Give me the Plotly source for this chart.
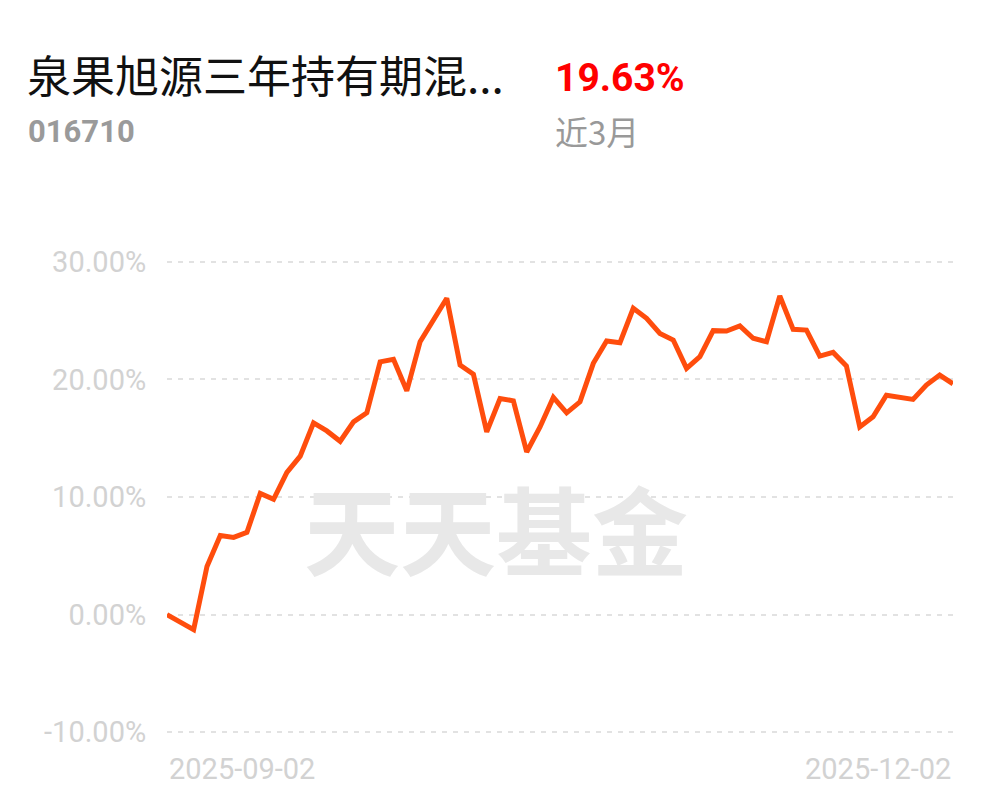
import plotly.graph_objects as go

# ---------------- data ----------------
fund_name = "泉果旭源三年持有期混..."
fund_code = "016710"
period_return = "19.63%"
period_label = "近3月"
watermark = "天天基金"

dates = [
    "2025-09-02", "2025-09-03", "2025-09-04", "2025-09-05", "2025-09-08", "2025-09-09",
    "2025-09-10", "2025-09-11", "2025-09-12", "2025-09-15", "2025-09-16", "2025-09-17",
    "2025-09-18", "2025-09-19", "2025-09-22", "2025-09-23", "2025-09-24", "2025-09-25",
    "2025-09-26", "2025-09-29", "2025-09-30",
    "2025-10-09", "2025-10-10", "2025-10-13", "2025-10-14", "2025-10-15", "2025-10-16",
    "2025-10-17", "2025-10-20", "2025-10-21", "2025-10-22", "2025-10-23", "2025-10-24",
    "2025-10-27", "2025-10-28", "2025-10-29", "2025-10-30", "2025-10-31",
    "2025-11-03", "2025-11-04", "2025-11-05", "2025-11-06", "2025-11-07", "2025-11-10",
    "2025-11-11", "2025-11-12", "2025-11-13", "2025-11-14", "2025-11-17", "2025-11-18",
    "2025-11-19", "2025-11-20", "2025-11-21", "2025-11-24", "2025-11-25", "2025-11-26",
    "2025-11-27", "2025-11-28",
    "2025-12-01", "2025-12-02",
]

returns = [
    0.00, -0.66, -1.28, 4.09, 6.73, 6.56, 6.99, 10.31, 9.80, 12.10,
    13.47, 16.30, 15.62, 14.74, 16.39, 17.16, 21.50, 21.71, 19.03, 23.21,
    25.06, 26.91, 21.22, 20.45, 15.54, 18.38, 18.18, 13.83, 15.96, 18.47,
    17.16, 18.09, 21.37, 23.27, 23.12, 26.05, 25.20, 23.92, 23.35, 20.94,
    21.93, 24.15, 24.12, 24.55, 23.50, 23.21, 27.10, 24.26, 24.20, 21.99,
    22.30, 21.14, 15.96, 16.82, 18.66, 18.47, 18.30, 19.52, 20.37, 19.63,
]

y_tick_vals = [-10, 0, 10, 20, 30]
y_tick_labels = ["-10.00%", "0.00%", "10.00%", "20.00%", "30.00%"]
x_tick_labels = [dates[0], dates[-1]]

# ---------------- layout helpers ----------------
OFF = 8                      # default body margin of the html page
W, H = 997 - 2 * OFF, 802 - 2 * OFF
Y_MIN, Y_MAX = -10.5, 30.5
PX_PER_PCT = (732 - 262) / 40.0
# plot area in reference-page pixels
PL, PR = 167, 953
PT = 262 - (Y_MAX - 30) * PX_PER_PCT
PB = 732 + (-10 - Y_MIN) * PX_PER_PCT


def px_x(px):
    return (px - PL) / (PR - PL)


def px_y(py):
    return (PB - py) / (PB - PT)


fig = go.Figure()
fig.add_trace(go.Scatter(
    x=dates, y=returns, mode="lines",
    line=dict(color="#FF4D0D", width=5),
    hoverinfo="skip",
))

fig.update_layout(
    width=W, height=H,
    margin=dict(l=PL - OFF, r=(W + OFF) - PR, t=PT - OFF, b=(H + OFF) - PB, pad=0),
    paper_bgcolor="white", plot_bgcolor="white",
    showlegend=False,
    xaxis=dict(
        type="category", range=[0, len(dates) - 1],
        showgrid=False, zeroline=False, showline=False,
        showticklabels=False, ticks="",
    ),
    yaxis=dict(
        range=[Y_MIN, Y_MAX],
        tickvals=y_tick_vals, ticktext=y_tick_labels,
        showgrid=True, gridcolor="#E2E2E2", gridwidth=2, griddash="5px,6px",
        zeroline=False, showline=False,
        ticks="outside", ticklen=14, tickcolor="rgba(0,0,0,0)",
        tickfont=dict(family="Roboto", size=29, color="#D2D2D2"),
    ),
)

annotations = [
    # watermark
    dict(text=watermark, xref="paper", yref="paper",
         x=px_x(496), y=px_y(526), xanchor="center", yanchor="middle",
         showarrow=False,
         font=dict(family="Noto Sans CJK SC", size=96, color="#E8E8E8", weight="bold")),
    # header
    dict(text=fund_name, xref="paper", yref="paper",
         x=px_x(25), y=px_y(74), xanchor="left", yanchor="middle",
         showarrow=False,
         font=dict(family="Noto Sans CJK SC", size=44, color="#111111")),
    dict(text=fund_code, xref="paper", yref="paper",
         x=px_x(26), y=px_y(132), xanchor="left", yanchor="middle",
         showarrow=False,
         font=dict(family="Roboto", size=31, color="#9A9A9A", weight="bold")),
    dict(text=period_return, xref="paper", yref="paper",
         x=px_x(553), y=px_y(78), xanchor="left", yanchor="middle",
         showarrow=False,
         font=dict(family="Roboto", size=39, color="#FF0000", weight="bold")),
    dict(text=period_label, xref="paper", yref="paper",
         x=px_x(553), y=px_y(131), xanchor="left", yanchor="middle",
         showarrow=False,
         font=dict(family="Noto Sans CJK SC", size=33, color="#999999")),
    # x tick labels
    dict(text=x_tick_labels[0], xref="x", yref="paper",
         x=0, y=px_y(769), xanchor="left", yanchor="middle",
         showarrow=False,
         font=dict(family="Roboto", size=29, color="#D2D2D2")),
    dict(text=x_tick_labels[1], xref="x", yref="paper",
         x=len(dates) - 1, y=px_y(769), xanchor="right", yanchor="middle",
         showarrow=False,
         font=dict(family="Roboto", size=29, color="#D2D2D2")),
]
fig.update_layout(annotations=annotations)

fig.write_html("out.html")
